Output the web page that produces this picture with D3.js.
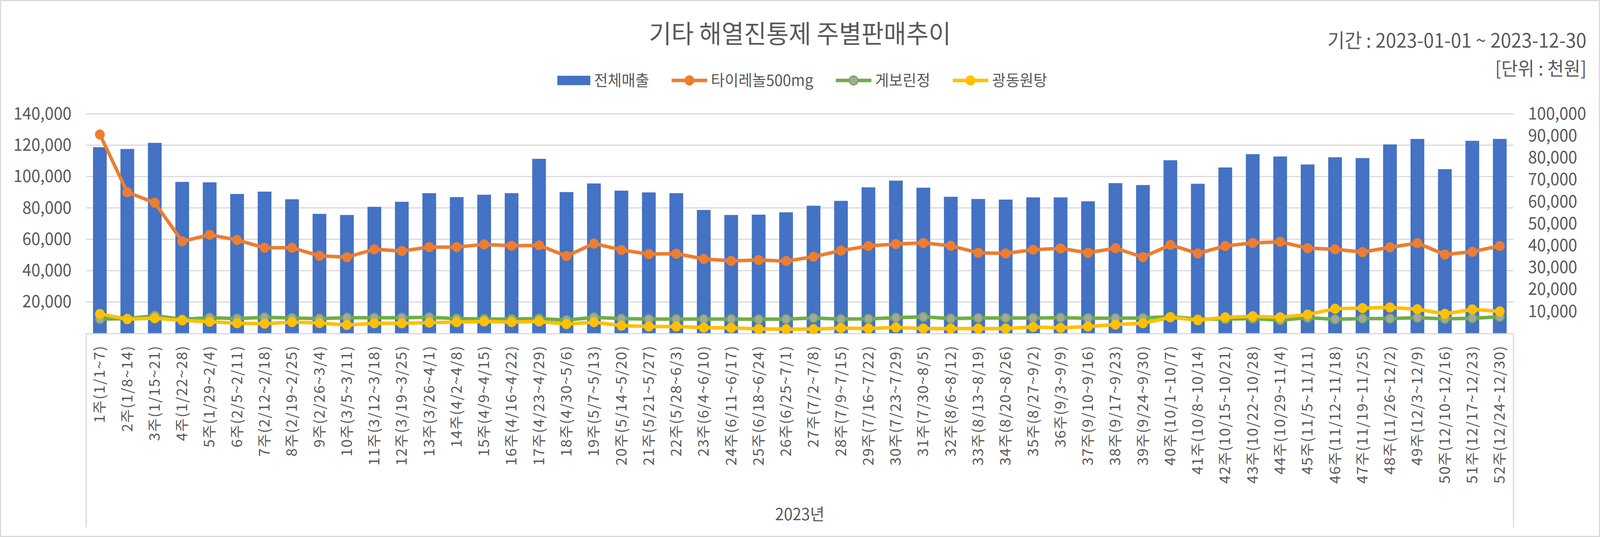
<!DOCTYPE html>
<html><head><meta charset="utf-8">
<script src="https://cdn.jsdelivr.net/npm/d3@7"></script>
<style>
html,body{margin:0;padding:0;background:#fff;overflow:hidden;width:100%;height:100%;}
svg{display:block;width:100vw;height:100vh;}
text{font-family:"Noto Sans CJK KR","Noto Sans",sans-serif;fill:#595959;}
</style></head>
<body>
<svg id="chart" viewBox="0 0 4272 1375" preserveAspectRatio="none"></svg>
<script>
const categories = ["1주(1/1~7)","2주(1/8~14)","3주(1/15~21)","4주(1/22~28)","5주(1/29~2/4)","6주(2/5~2/11)","7주(2/12~2/18)","8주(2/19~2/25)","9주(2/26~3/4)","10주(3/5~3/11)","11주(3/12~3/18)","12주(3/19~3/25)","13주(3/26~4/1)","14주(4/2~4/8)","15주(4/9~4/15)","16주(4/16~4/22)","17주(4/23~4/29)","18주(4/30~5/6)","19주(5/7~5/13)","20주(5/14~5/20)","21주(5/21~5/27)","22주(5/28~6/3)","23주(6/4~6/10)","24주(6/11~6/17)","25주(6/18~6/24)","26주(6/25~7/1)","27주(7/2~7/8)","28주(7/9~7/15)","29주(7/16~7/22)","30주(7/23~7/29)","31주(7/30~8/5)","32주(8/6~8/12)","33주(8/13~8/19)","34주(8/20~8/26)","35주(8/27~9/2)","36주(9/3~9/9)","37주(9/10~9/16)","38주(9/17~9/23)","39주(9/24~9/30)","40주(10/1~10/7)","41주(10/8~10/14)","42주(10/15~10/21)","43주(10/22~10/28)","44주(10/29~11/4)","45주(11/5~11/11)","46주(11/12~11/18)","47주(11/19~11/25)","48주(11/26~12/2)","49주(12/3~12/9)","50주(12/10~12/16)","51주(12/17~12/23)","52주(12/24~12/30)"];

const totalSales = [118700,117600,121500,96600,96300,88900,90400,85500,76200,75500,80700,83900,89400,86900,88400,89400,111300,90100,95600,91000,89900,89400,78700,75500,75700,77200,81400,84500,93100,97400,92900,87100,85700,85300,86700,86700,84200,95800,94600,110400,95400,105800,114300,112800,107700,112300,111800,120500,124000,104700,122800,124000];

const tylenol = [90600,64300,59500,41900,44900,42500,39000,39000,35300,34700,38300,37500,39300,39300,40500,39900,40100,35200,40900,38000,36100,36300,33900,33000,33400,32900,34900,37700,39800,40700,41200,39900,36700,36400,38100,38700,36700,38800,34700,40300,36400,39800,41200,41700,38800,38300,37000,39200,41100,35900,37200,39800];

const geborin = [6500,6700,8000,6400,7100,6700,7300,7000,6700,7100,7100,7100,7300,6700,6500,6500,6700,6000,7300,6700,6500,6500,6500,6500,6400,6500,7000,6500,6600,7100,7500,6700,7000,7000,7000,7100,6900,6900,7000,7600,6500,6500,6700,6000,7100,6400,6700,6700,7100,6600,6900,7500];

const kwangdong = [8800,6500,6900,5900,5300,4600,4400,5100,4700,3800,4600,4600,4900,5100,5400,5100,5400,4200,5100,3500,3100,3100,2600,2500,2000,1900,1900,2400,2200,2700,2200,2200,2200,2200,2900,2500,3100,4000,4600,7300,6000,7300,7800,7300,8600,11200,11500,11800,11000,8900,10900,10000];

const leftTicks = [20000,40000,60000,80000,100000,120000,140000];
const rightTicks = [10000,20000,30000,40000,50000,60000,70000,80000,90000,100000];

const seriesNames = ["전체매출","타이레놀500mg","게보린정","광동원탕"];
const titleText = "기타 해열진통제 주별판매추이";
const periodText = "기간 : 2023-01-01 ~ 2023-12-30";
const unitText = "[단위 : 천원]";
const groupLabel = "2023년";

const C = {blue:"#4472C4", orange:"#ED7D31", green:"#70AD47", gray:"#A5A5A5", yellow:"#FFC000", grid:"#D9D9D9"};

const svg = d3.select("#chart");
const W = 4272, H = 1375;
const L = 230, R = 4041, T = 291.5, B = 853.5;

svg.append("rect").attr("x",1.5).attr("y",1.5).attr("width",W-3).attr("height",H-3)
  .attr("fill","#fff").attr("stroke",C.grid).attr("stroke-width",3);

const x = d3.scaleBand().domain(categories).range([L,R]).paddingInner(0.5).paddingOuter(0.25);
const yL = d3.scaleLinear().domain([0,140000]).range([B,T]);
const yR = d3.scaleLinear().domain([0,100000]).range([B,T]);
const fmt = d3.format(",");

// gridlines
svg.append("g").selectAll("line").data(leftTicks).join("line")
  .attr("x1",L).attr("x2",R).attr("y1",d=>yL(d)).attr("y2",d=>yL(d))
  .attr("stroke",C.grid).attr("stroke-width",3);

// left axis
const gL = svg.append("g").attr("transform",`translate(${L},0)`)
  .call(d3.axisLeft(yL).tickValues(leftTicks).tickFormat(fmt).tickSize(0).tickPadding(39));
gL.select(".domain").remove();
gL.selectAll("text").attr("font-size",43).attr("fill","#595959")
  .attr("font-family",'"Noto Sans CJK KR","Noto Sans",sans-serif');

// right axis
const gR = svg.append("g").attr("transform",`translate(${R},0)`)
  .call(d3.axisRight(yR).tickValues(rightTicks).tickFormat(fmt).tickSize(0).tickPadding(39));
gR.select(".domain").remove();
gR.selectAll("text").attr("font-size",43).attr("fill","#595959")
  .attr("font-family",'"Noto Sans CJK KR","Noto Sans",sans-serif');

// bars
svg.append("g").selectAll("rect").data(totalSales).join("rect")
  .attr("x",(d,i)=>x(categories[i])).attr("width",x.bandwidth())
  .attr("y",d=>yL(d)).attr("height",d=>B-yL(d)).attr("fill",C.blue);

// category axis lines
svg.append("line").attr("x1",L).attr("x2",R).attr("y1",B+1).attr("y2",B+1).attr("stroke",C.grid).attr("stroke-width",3);
svg.append("line").attr("x1",L).attr("x2",L).attr("y1",B).attr("y2",1350).attr("stroke",C.grid).attr("stroke-width",3);
svg.append("line").attr("x1",R).attr("x2",R).attr("y1",B).attr("y2",1350).attr("stroke",C.grid).attr("stroke-width",3);

const cx = i => x(categories[i]) + x.bandwidth()/2;

function drawLine(data, color, markerFill, markerStroke){
  const line = d3.line().x((d,i)=>cx(i)).y(d=>yR(d));
  const g = svg.append("g");
  g.append("path").attr("d",line(data)).attr("fill","none").attr("stroke",color)
    .attr("stroke-width",9).attr("stroke-linejoin","round").attr("stroke-linecap","round");
  g.selectAll("circle").data(data).join("circle")
    .attr("cx",(d,i)=>cx(i)).attr("cy",d=>yR(d)).attr("r",11.5)
    .attr("fill",markerFill).attr("stroke",markerStroke).attr("stroke-width",3);
}
drawLine(tylenol, C.orange, C.orange, C.orange);
drawLine(geborin, C.green, C.gray, C.green);
drawLine(kwangdong, C.yellow, C.yellow, C.yellow);

// category labels
svg.append("g").selectAll("text").data(categories).join("text")
  .attr("transform",(d,i)=>`translate(${cx(i)},884) rotate(-90)`)
  .attr("text-anchor","end").attr("dy","0.35em")
  .attr("font-size",38).attr("letter-spacing",2).text(d=>d);

svg.append("text").attr("x",(L+R)/2).attr("y",1332).attr("text-anchor","middle")
  .attr("font-size",42).text(groupLabel);

// title & side texts
svg.append("text").attr("x",W/2).attr("y",110).attr("text-anchor","middle")
  .attr("font-size",65).text(titleText);
svg.append("text").attr("x",4236).attr("y",122).attr("text-anchor","end")
  .attr("font-size",50).text(periodText);
svg.append("text").attr("x",4236).attr("y",193).attr("text-anchor","end")
  .attr("font-size",48).text(unitText);

// legend
const legend = svg.append("g");
const ly = 206;
let cursor = 0;
seriesNames.forEach((name,i)=>{
  const g = legend.append("g");
  let keyW;
  if(i===0){
    keyW = 88;
    g.append("rect").attr("x",0).attr("y",ly-12).attr("width",keyW).attr("height",24).attr("fill",C.blue);
  } else {
    keyW = 95;
    const col = [null,C.orange,C.green,C.yellow][i];
    const mf = [null,C.orange,C.gray,C.yellow][i];
    g.append("line").attr("x1",0).attr("x2",keyW).attr("y1",ly).attr("y2",ly).attr("stroke",col).attr("stroke-width",9);
    g.append("circle").attr("cx",keyW/2).attr("cy",ly).attr("r",11.5).attr("fill",mf).attr("stroke",col).attr("stroke-width",3);
  }
  const t = g.append("text").attr("x",keyW+10).attr("y",ly).attr("dy","0.35em").attr("font-size",40).text(name);
  const w = keyW + 10 + t.node().getComputedTextLength();
  g.attr("transform",`translate(${cursor},0)`);
  cursor += w + 60;
});
const totalW = cursor - 60;
legend.attr("transform",`translate(${2142 - totalW/2},0)`);
</script>
</body></html>
